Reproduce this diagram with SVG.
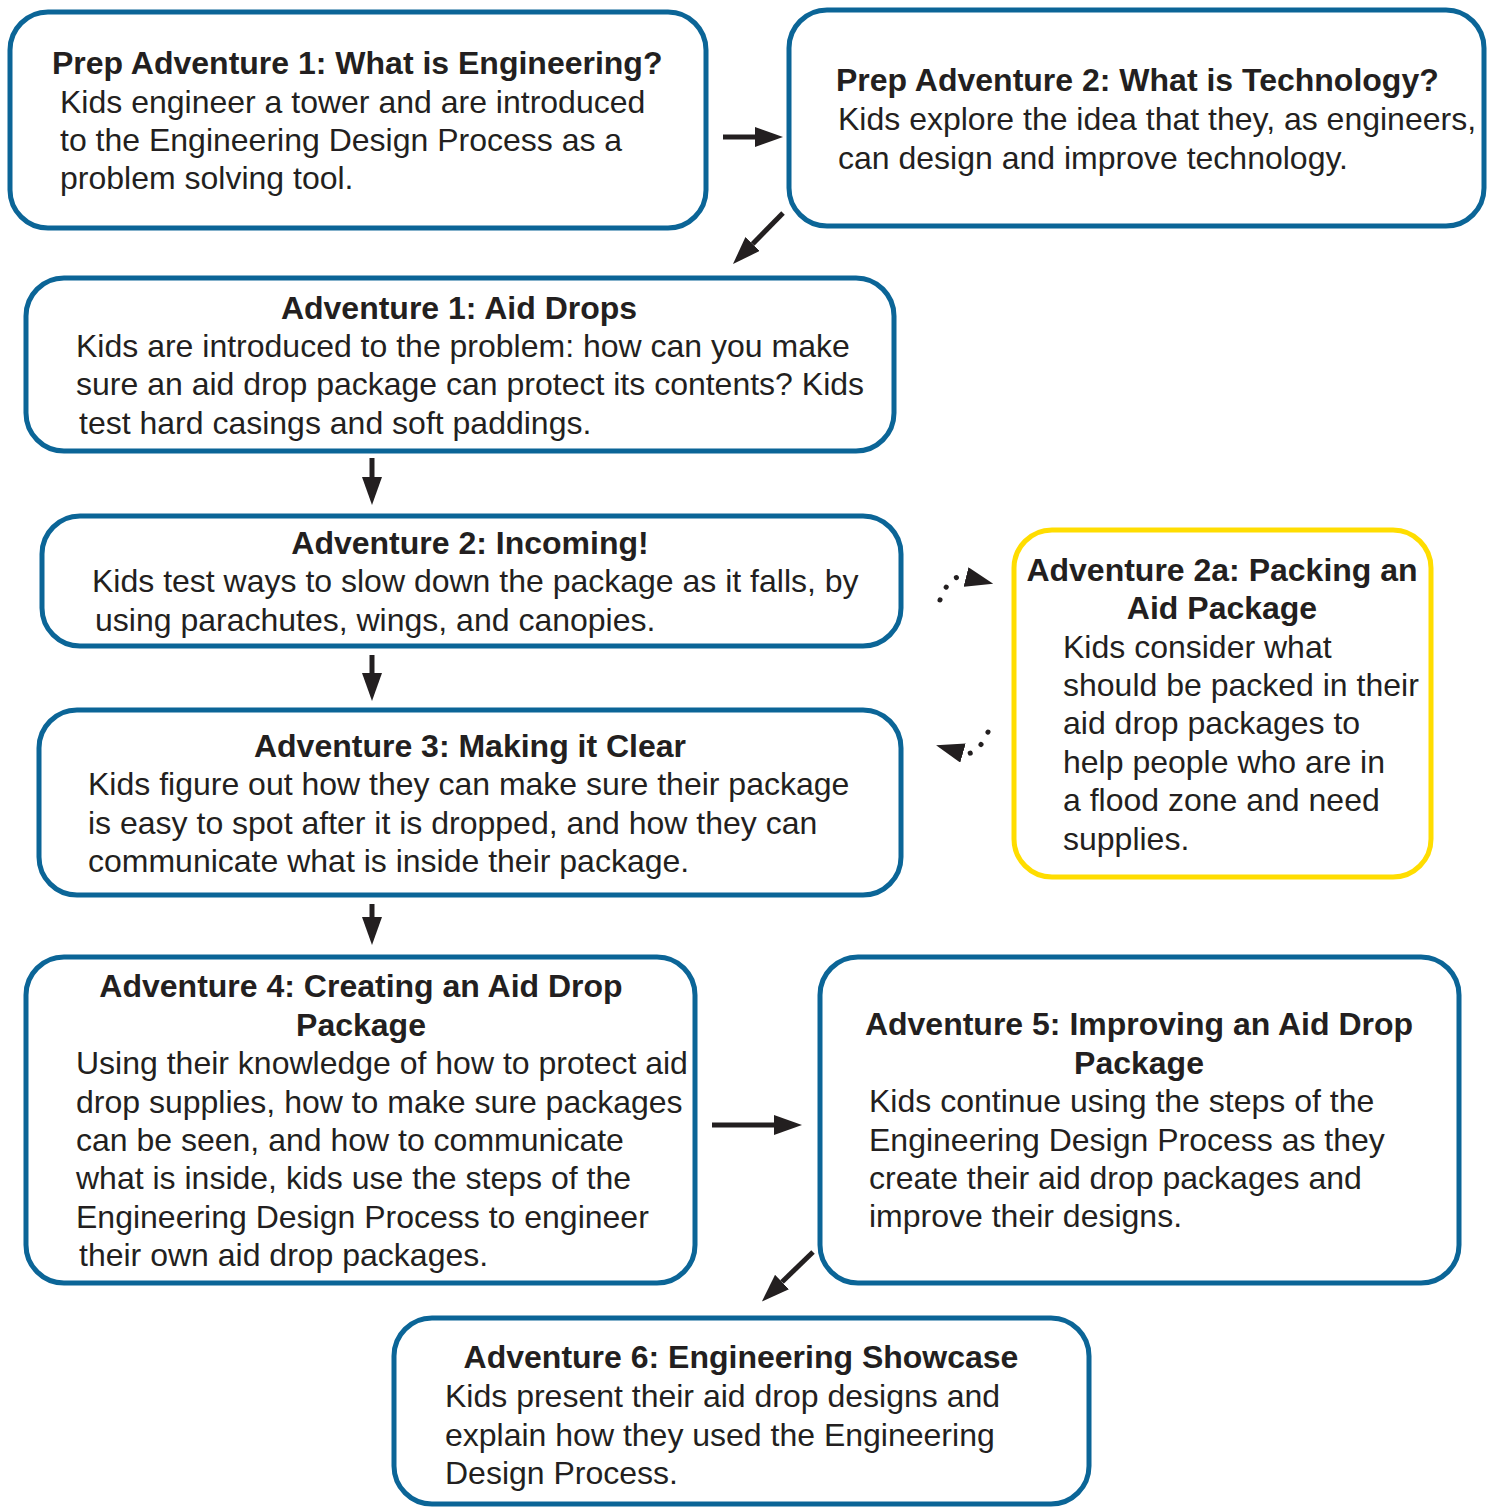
<svg xmlns="http://www.w3.org/2000/svg" width="1493" height="1507" viewBox="0 0 1493 1507">
<style>
.box{fill:#ffffff;stroke:#0b6597;stroke-width:5}
.box2a{fill:#ffffff;stroke:#ffdd00;stroke-width:5}
text{font-family:"Liberation Sans",Arial,Helvetica,sans-serif;font-size:32px;fill:#231f20}
.t{font-weight:bold}
.c{text-anchor:middle}
.arr{stroke:#231f20;stroke-width:5;fill:none;marker-end:url(#head)}
.dot{stroke:#231f20;stroke-width:5;fill:none;stroke-linecap:round;stroke-dasharray:0.1 14;marker-end:url(#head)}
</style>
<defs>
<marker id="head" markerUnits="userSpaceOnUse" viewBox="0 0 28 20" refX="0" refY="10" markerWidth="28" markerHeight="20" orient="auto">
<path d="M0,0 L28,10 L0,20 Z" fill="#231f20"/>
</marker>
</defs>
<rect width="1493" height="1507" fill="#ffffff"/>

<g id="connectors">
<line class="arr" x1="723" y1="137" x2="755" y2="137"/>
<line class="arr" x1="783" y1="213" x2="752.6" y2="244"/>
<line class="arr" x1="372" y1="458" x2="372" y2="477"/>
<line class="arr" x1="372" y1="655" x2="372" y2="673"/>
<line class="arr" x1="372" y1="904" x2="372" y2="917"/>
<line class="arr" x1="712" y1="1125" x2="774" y2="1125"/>
<line class="arr" x1="813" y1="1252" x2="782" y2="1282"/>
<path class="dot" d="M940,600 Q950,573 966,577"/>
<path class="dot" d="M988,732 Q977,757 963,753"/>
</g>

<g id="prep1">
<rect class="box" x="10" y="12" width="696" height="216" rx="38"/>
<text class="t" x="52" y="74">Prep Adventure 1: What is Engineering?</text>
<text x="60" y="113">Kids engineer a tower and are introduced</text>
<text x="60" y="151">to the Engineering Design Process as a</text>
<text x="60" y="189">problem solving tool.</text>
</g>

<g id="prep2">
<rect class="box" x="789" y="10" width="695" height="216" rx="38"/>
<text class="t" x="836" y="91">Prep Adventure 2: What is Technology?</text>
<text x="838" y="130">Kids explore the idea that they, as engineers,</text>
<text x="838" y="169">can design and improve technology.</text>
</g>

<g id="adv1">
<rect class="box" x="26" y="278" width="868" height="173" rx="38"/>
<text class="t c" x="459" y="319">Adventure 1: Aid Drops</text>
<text x="76" y="357">Kids are introduced to the problem: how can you make</text>
<text x="76" y="395">sure an aid drop package can protect its contents? Kids</text>
<text x="79" y="434">test hard casings and soft paddings.</text>
</g>

<g id="adv2">
<rect class="box" x="42" y="516" width="859" height="130" rx="38"/>
<text class="t c" x="470" y="554">Adventure 2: Incoming!</text>
<text x="92" y="592">Kids test ways to slow down the package as it falls, by</text>
<text x="95" y="631">using parachutes, wings, and canopies.</text>
</g>

<g id="adv3">
<rect class="box" x="39" y="710" width="862" height="185" rx="38"/>
<text class="t c" x="470" y="757">Adventure 3: Making it Clear</text>
<text x="88" y="795">Kids figure out how they can make sure their package</text>
<text x="88" y="834">is easy to spot after it is dropped, and how they can</text>
<text x="88" y="872">communicate what is inside their package.</text>
</g>

<g id="adv2a">
<rect class="box2a" x="1014" y="530" width="417" height="347" rx="38"/>
<text class="t c" x="1222" y="581">Adventure 2a: Packing an</text>
<text class="t c" x="1222" y="619">Aid Package</text>
<text x="1063" y="658">Kids consider what</text>
<text x="1063" y="696">should be packed in their</text>
<text x="1063" y="734">aid drop packages to</text>
<text x="1063" y="773">help people who are in</text>
<text x="1063" y="811">a flood zone and need</text>
<text x="1063" y="850">supplies.</text>
</g>

<g id="adv4">
<rect class="box" x="26" y="957" width="669" height="326" rx="38"/>
<text class="t c" x="361" y="997">Adventure 4: Creating an Aid Drop</text>
<text class="t c" x="361" y="1036">Package</text>
<text x="76" y="1074">Using their knowledge of how to protect aid</text>
<text x="76" y="1113">drop supplies, how to make sure packages</text>
<text x="76" y="1151">can be seen, and how to communicate</text>
<text x="76" y="1189">what is inside, kids use the steps of the</text>
<text x="76" y="1228">Engineering Design Process to engineer</text>
<text x="79" y="1266">their own aid drop packages.</text>
</g>

<g id="adv5">
<rect class="box" x="820" y="957" width="639" height="326" rx="38"/>
<text class="t c" x="1139" y="1035">Adventure 5: Improving an Aid Drop</text>
<text class="t c" x="1139" y="1074">Package</text>
<text x="869" y="1112">Kids continue using the steps of the</text>
<text x="869" y="1151">Engineering Design Process as they</text>
<text x="869" y="1189">create their aid drop packages and</text>
<text x="869" y="1227">improve their designs.</text>
</g>

<g id="adv6">
<rect class="box" x="394" y="1318" width="695" height="186" rx="38"/>
<text class="t c" x="741" y="1368">Adventure 6: Engineering Showcase</text>
<text x="445" y="1407">Kids present their aid drop designs and</text>
<text x="445" y="1446">explain how they used the Engineering</text>
<text x="445" y="1484">Design Process.</text>
</g>
</svg>
